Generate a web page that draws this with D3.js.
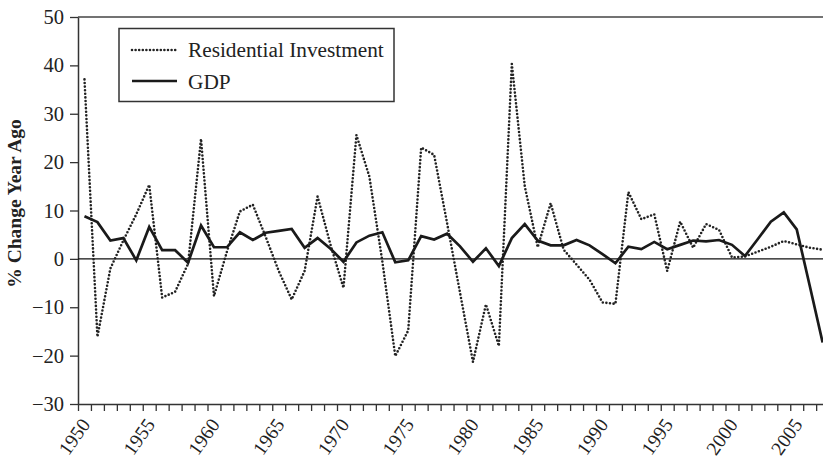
<!DOCTYPE html>
<html>
<head>
<meta charset="utf-8">
<script src="https://d3js.org/d3.v7.min.js"></script>
<style>
  body { margin: 0; background: #fff; }
  svg { display: block; font-family: "Liberation Serif", "Times New Roman", serif; }
</style>
</head>
<body>
<svg id="chart" width="823" height="461"></svg>
<script>
// Years shown on the category axis
const years = d3.range(1950, 2008);

// % change year ago
const residential = [
  37.1, -16.1, -2.0, 3.8, 9.2, 15.3, -8.0, -6.8, -1.0, 24.8,
  -7.7, 1.5, 9.8, 11.2, 4.5, -2.5, -8.4, -2.5, 12.9, 2.9,
  -6.0, 25.6, 17.0, -0.5, -20.1, -14.8, 23.0, 21.5, 7.4, -7.0,
  -21.3, -9.4, -18.0, 40.3, 15.0, 2.4, 11.5, 1.9, -1.2, -4.3,
  -9.0, -9.3, 13.8, 8.2, 9.2, -2.5, 7.7, 2.3, 7.2, 6.0,
  0.3, 0.5, 1.5, 2.5, 3.7, 3.0, 2.3, 1.9
];
const gdp = [
  8.8, 7.6, 3.8, 4.3, -0.3, 6.6, 1.8, 1.8, -0.8, 6.9,
  2.4, 2.4, 5.5, 3.9, 5.4, 5.8, 6.2, 2.3, 4.3, 2.1,
  -0.6, 3.4, 4.8, 5.5, -0.7, -0.3, 4.7, 4.0, 5.2, 2.6,
  -0.6, 2.2, -1.5, 4.3, 7.2, 3.8, 2.8, 2.8, 3.9, 2.8,
  1.0, -0.9, 2.5, 2.0, 3.5, 2.0, 2.9, 3.8, 3.6, 3.9,
  2.9, 0.6, 4.1, 7.7, 9.6, 6.1, -5.5, -17.3
];
const yTicks = [-30, -20, -10, 0, 10, 20, 30, 40, 50];
const labelYears = years.filter(y => y % 5 === 0);

const svg = d3.select("#chart");
const plotLeft = 78, plotTop = 17, plotBottom = 404, step = 12.95;

// x: category centres sit half a step inside the boundaries
const x = d3.scaleLinear()
  .domain([1949.5, 2007.5])
  .range([plotLeft, plotLeft + years.length * step]);

const y = d3.scaleLinear()
  .domain([-30, 50])
  .range([plotBottom, plotTop]);

// Frame: top line
svg.append("line")
  .attr("x1", plotLeft).attr("x2", 823)
  .attr("y1", plotTop).attr("y2", plotTop)
  .attr("stroke", "#444").attr("stroke-width", 1.5);

// Left axis
const yAxis = svg.append("g")
  .attr("transform", `translate(${plotLeft},0)`)
  .call(d3.axisLeft(y).tickValues(yTicks).tickSize(8).tickPadding(6).tickSizeOuter(0));
yAxis.select(".domain").attr("stroke", "#333").attr("stroke-width", 1.5);
yAxis.selectAll(".tick line").attr("stroke", "#333").attr("stroke-width", 1.3);
yAxis.selectAll("text")
  .attr("font-family", "Liberation Serif")
  .attr("font-size", 20.5)
  .attr("fill", "#222");

// Bottom axis with ticks on category boundaries
const boundaries = d3.range(1949.5, 2008, 1);
const xAxis = svg.append("g")
  .attr("transform", `translate(0,${plotBottom})`)
  .call(d3.axisBottom(x).tickValues(boundaries).tickFormat("").tickSize(7).tickSizeOuter(0));
xAxis.select(".domain").attr("stroke", "#333").attr("stroke-width", 1.5);
xAxis.selectAll(".tick line").attr("stroke", "#333").attr("stroke-width", 1.3);

// Rotated year labels every five years
svg.append("g").selectAll("text")
  .data(labelYears)
  .enter().append("text")
  .attr("transform", d => `translate(${x(d) + 6.5},424.5) rotate(-55)`)
  .attr("text-anchor", "end")
  .attr("font-size", 19.5)
  .attr("fill", "#222")
  .text(d => d);

// Zero line
svg.append("line")
  .attr("x1", plotLeft).attr("x2", 823)
  .attr("y1", y(0)).attr("y2", y(0))
  .attr("stroke", "#111").attr("stroke-width", 1.2);

// Series
const line = d3.line()
  .x((d, i) => x(years[i]))
  .y(d => y(d));

svg.append("path")
  .datum(residential)
  .attr("d", line)
  .attr("fill", "none")
  .attr("stroke", "#222")
  .attr("stroke-width", 2.6)
  .attr("stroke-linecap", "round")
  .attr("stroke-dasharray", "0 3.6");

svg.append("path")
  .datum(gdp)
  .attr("d", line)
  .attr("fill", "none")
  .attr("stroke", "#1a1a1a")
  .attr("stroke-width", 2.7)
  .attr("stroke-linejoin", "miter");

// Y axis title
svg.append("text")
  .attr("transform", `translate(21,${(plotTop + plotBottom) / 2 - 7}) rotate(-90)`)
  .attr("text-anchor", "middle")
  .attr("font-size", 19.5)
  .attr("font-weight", "bold")
  .attr("fill", "#222")
  .text("% Change Year Ago");

// Legend
const legend = svg.append("g");
legend.append("rect")
  .attr("x", 119).attr("y", 28.5)
  .attr("width", 275).attr("height", 73)
  .attr("fill", "#fff")
  .attr("stroke", "#333").attr("stroke-width", 1.5);

legend.append("line")
  .attr("x1", 132).attr("x2", 177).attr("y1", 50).attr("y2", 50)
  .attr("stroke", "#222").attr("stroke-width", 2.6)
  .attr("stroke-linecap", "round").attr("stroke-dasharray", "0 3.6");
legend.append("text")
  .attr("x", 188).attr("y", 57)
  .attr("font-size", 21.3).attr("fill", "#222")
  .text("Residential Investment");

legend.append("line")
  .attr("x1", 132).attr("x2", 177).attr("y1", 81).attr("y2", 81)
  .attr("stroke", "#1a1a1a").attr("stroke-width", 2.7);
legend.append("text")
  .attr("x", 188).attr("y", 89)
  .attr("font-size", 21.3).attr("fill", "#222")
  .text("GDP");
</script>
</body>
</html>
